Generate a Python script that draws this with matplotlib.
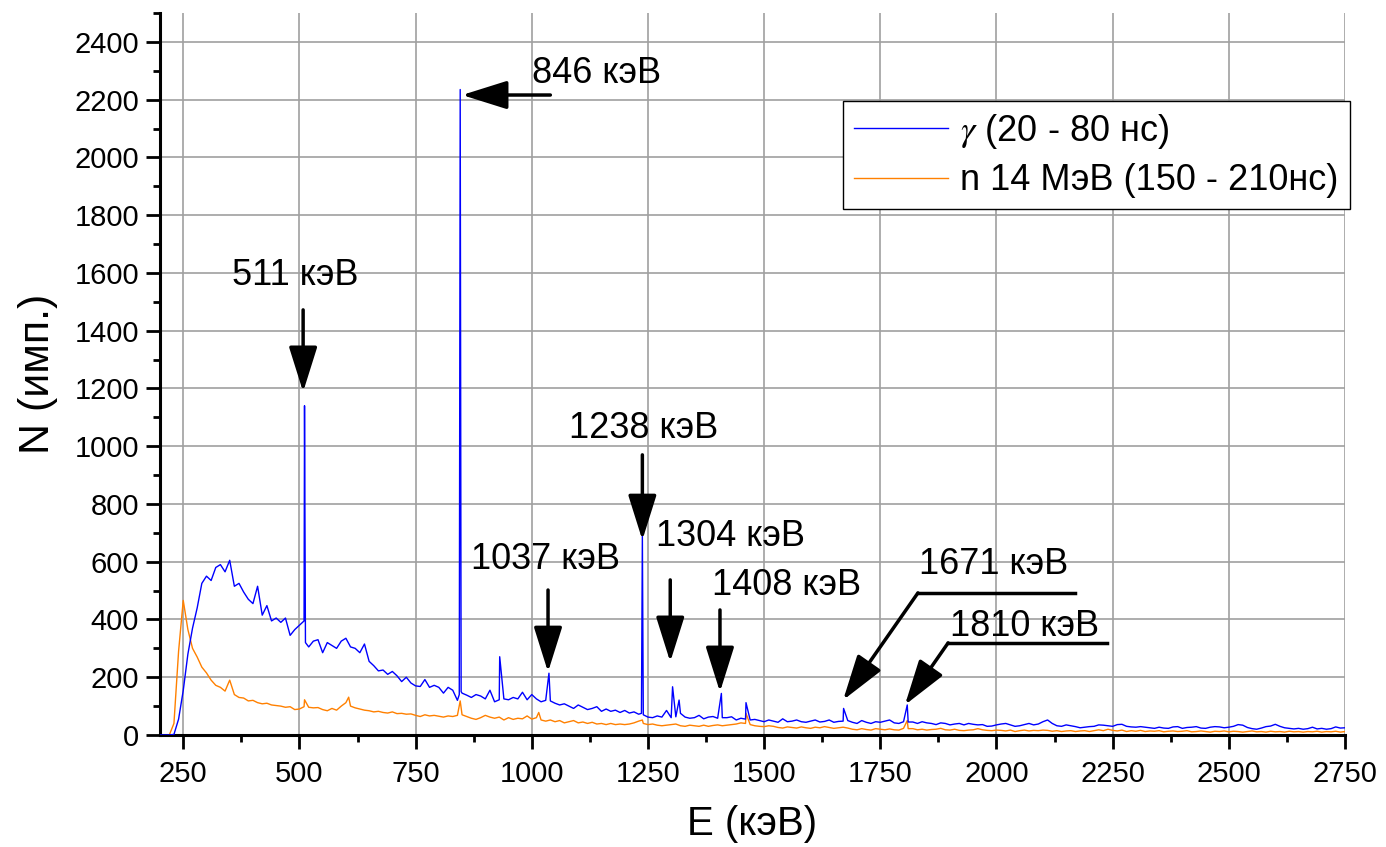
import numpy as np
import matplotlib
matplotlib.use("Agg")
import matplotlib.pyplot as plt
from matplotlib.ticker import MultipleLocator

plt.rcParams['font.family'] = ['Liberation Sans', 'DejaVu Sans']
plt.rcParams['mathtext.fontset'] = 'stix'

# channel energies (keV), 10 keV step
energy = np.arange(200, 2751, 10)

# gamma window 20-80 ns, continuum
gamma_counts = [
    0, 0, 0, 2, 55, 154, 280, 370, 440, 525,
    550, 535, 580, 590, 565, 605, 515, 525, 495, 470,
    455, 515, 415, 448, 395, 405, 390, 405, 345, 365,
    380, 395, 305, 325, 330, 285, 320, 310, 300, 325,
    335, 305, 300, 285, 315, 255, 240, 222, 225, 210,
    220, 205, 185, 200, 180, 170, 168, 192, 165, 172,
    165, 145, 165, 155, 120, 145, 138, 130, 140, 135,
    125, 155, 115, 122, 125, 122, 130, 125, 148, 122,
    140, 125, 115, 120, 118, 110, 104, 108, 100, 92,
    104, 96, 88, 92, 98, 82, 90, 82, 86, 78,
    85, 76, 80, 72, 70, 62, 60, 66, 62, 85,
    60, 63, 75, 62, 58, 60, 68, 56, 62, 64,
    58, 60, 60, 63, 52, 58, 55, 52, 54, 50,
    46, 52, 48, 44, 56, 46, 48, 52, 46, 44,
    48, 52, 45, 47, 52, 44, 47, 48, 50, 44,
    40, 50, 44, 40, 46, 44, 48, 52, 42, 40,
    46, 45, 45, 40, 46, 42, 40, 36, 42, 40,
    35, 38, 40, 35, 40, 37, 35, 36, 30, 31,
    35, 38, 40, 35, 30, 32, 36, 40, 35, 38,
    46, 52, 40, 32, 30, 35, 32, 29, 25, 27,
    29, 30, 35, 34, 32, 30, 36, 37, 30, 28,
    27, 29, 27, 25, 23, 27, 24, 23, 28, 29,
    23, 26, 27, 29, 24, 23, 27, 29, 28, 25,
    27, 30, 36, 34, 26, 22, 20, 24, 29, 31,
    37, 30, 25, 23, 21, 23, 20, 22, 27, 21,
    23, 20, 22, 28, 24, 25,
]

# neutron window 150-210 ns
neutron_counts = [
    0, 0, 0, 40, 290, 466, 365, 300, 270, 235,
    215, 190, 172, 165, 152, 190, 140, 130, 128, 118,
    120, 112, 108, 110, 104, 102, 100, 96, 98, 88,
    90, 98, 96, 94, 95, 88, 84, 92, 86, 100,
    112, 100, 94, 90, 86, 84, 80, 82, 78, 76,
    80, 74, 75, 72, 73, 68, 64, 70, 66, 68,
    65, 62, 66, 64, 68, 70, 64, 58, 54, 60,
    68, 62, 58, 62, 52, 60, 54, 58, 56, 66,
    55, 60, 52, 48, 52, 46, 50, 42, 46, 50,
    42, 45, 40, 44, 38, 40, 36, 40, 36, 38,
    36, 38, 42, 48, 40, 36, 38, 34, 32, 34,
    36, 38, 32, 30, 34, 32, 30, 34, 30, 33,
    35, 32, 34, 36, 38, 42, 40, 36, 32, 30,
    29, 32, 30, 26, 24, 28, 26, 24, 28, 25,
    23, 27, 25, 29, 26, 23, 25, 27, 24, 20,
    18, 22, 19, 17, 22, 20, 18, 21, 18, 17,
    23, 22, 22, 18, 20, 17, 19, 20, 23, 18,
    17, 20, 16, 15, 17, 18, 22, 18, 16, 15,
    17, 16, 14, 17, 12, 15, 17, 14, 16, 15,
    17, 16, 13, 15, 12, 14, 15, 12, 14, 15,
    12, 15, 18, 15, 20, 16, 14, 17, 12, 15,
    13, 16, 12, 14, 13, 15, 11, 13, 14, 12,
    13, 15, 11, 12, 14, 12, 10, 13, 12, 14,
    11, 13, 12, 10, 12, 14, 11, 12, 10, 13,
    11, 12, 10, 13, 11, 12, 10, 12, 11, 13,
    10, 12, 11, 13, 10, 12,
]

# narrow lines on top of the continuum
gamma_peak_e = [511, 513, 844, 846, 848, 931, 1037, 1236, 1238, 1303, 1317, 1408, 1461, 1671, 1808]
gamma_peak_n = [1140, 320, 140, 2235, 150, 271, 214, 75, 690, 167, 121, 144, 112, 92, 104]
neutron_peak_e = [511, 606, 846, 1015, 1238, 1461, 1808]
neutron_peak_n = [122, 131, 118, 78, 52, 75, 50]

# peak labels: text, text position, arrow start, arrow tip
labels = ["511 кэВ", "846 кэВ", "1037 кэВ", "1238 кэВ", "1304 кэВ", "1408 кэВ", "1671 кэВ", "1810 кэВ"]
label_xy = [(491, 1590), (1001, 2289), (1029, 606), (1240, 1063), (1427, 689), (1549, 519), (1993, 589), (2061, 377)]
label_ha = ["center", "left", "center", "center", "center", "center", "center", "center"]
arrow_from = [(508, 1472), (1040, 2216), (1035, 502), (1238, 970), (1298, 537), (1405, 433), (1831, 492), (1896, 319)]
arrow_to = [(508, 1188), (850, 2216), (1035, 218), (1238, 675), (1298, 253), (1405, 149), (1670, 121), (1803, 104)]
# shelf lines under the two slanted labels
shelves = [((1831, 2169), 492), ((1896, 2238), 319)]


def merge(e, n, pe, pn):
    x = np.concatenate([e, pe])
    y = np.concatenate([n, pn])
    idx = np.argsort(x, kind="stable")
    return x[idx], y[idx]


gx, gy = merge(energy, gamma_counts, gamma_peak_e, gamma_peak_n)
nx, ny = merge(energy, neutron_counts, neutron_peak_e, neutron_peak_n)

fig = plt.figure(figsize=(13.86, 8.47), dpi=100)
ax = fig.add_axes([160 / 1386, 112 / 847, 1185 / 1386, 722 / 847])

ax.plot(gx, gy, color="#0000ff", lw=1.0, label=r"$\gamma$ (20 - 80 нс)", zorder=3)
ax.plot(nx, ny, color="#ff8000", lw=1.0, label="n 14 МэВ (150 - 210нс)", zorder=2)

ax.set_xlim(200, 2750)
ax.set_ylim(0, 2500)
ax.xaxis.set_minor_locator(MultipleLocator(125))
ax.yaxis.set_minor_locator(MultipleLocator(100))
ax.set_yticks(np.arange(0, 2401, 200))
ax.set_xticks(np.arange(250, 2751, 250))

ax.grid(True, which="major", color="#a0a0a0", lw=1.2)
ax.set_axisbelow(True)
for s in ["top", "right"]:
    ax.spines[s].set_visible(False)
for s in ["left", "bottom"]:
    ax.spines[s].set_linewidth(2.2)

ax.tick_params(which="major", direction="out", length=10, width=2, labelsize=21, pad=8)
ax.tick_params(axis="y", which="major", pad=5)
ax.tick_params(which="minor", direction="out", length=5, width=2)

ax.set_xlabel("E (кэВ)", fontsize=29, labelpad=12)
ax.set_ylabel("N (имп.)", fontsize=31, labelpad=12)

for txt, xy, ha, a0, a1 in zip(labels, label_xy, label_ha, arrow_from, arrow_to):
    ax.text(xy[0], xy[1], txt, fontsize=26, ha=ha, va="center", zorder=5)
    ax.annotate("", xy=a1, xytext=a0,
                arrowprops=dict(arrowstyle="-|>,head_length=0.7,head_width=0.22",
                                mutation_scale=40, lw=2.5, color="black",
                                shrinkA=0, shrinkB=0),
                zorder=5)
for (x0, x1), yy in shelves:
    ax.plot([x0, x1], [yy, yy], color="black", lw=2.5, zorder=5)

leg = ax.legend(loc="upper left", bbox_to_anchor=(843 / 1386, 1 - 101 / 847),
                bbox_transform=fig.transFigure, fontsize=26, frameon=True,
                fancybox=False, handlelength=2.6, handletextpad=0.35,
                borderpad=0.3, labelspacing=0.35, borderaxespad=0)
leg.get_frame().set_edgecolor("black")
leg.get_frame().set_linewidth(1.0)
leg.get_frame().set_alpha(1)

fig.savefig("out.png", dpi=100)
